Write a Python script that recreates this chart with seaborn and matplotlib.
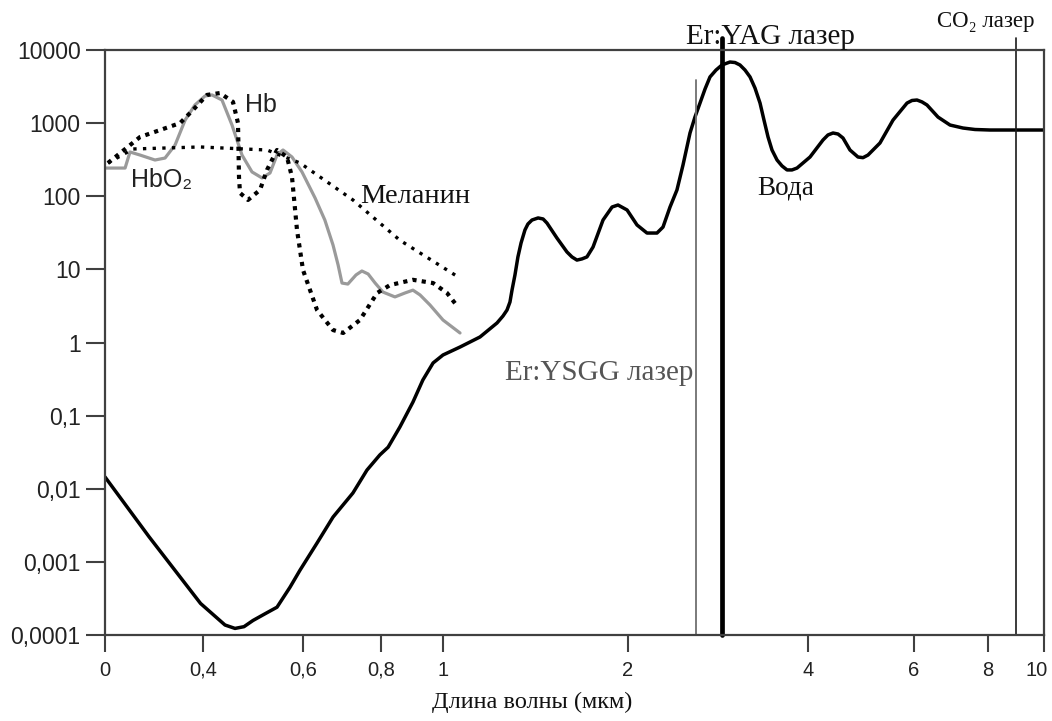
import numpy as np
import matplotlib
matplotlib.use("Agg")
import matplotlib.pyplot as plt
from matplotlib import font_manager
from matplotlib.transforms import ScaledTranslation
import seaborn as sns

# ---------------- data ----------------
# water absorption curve (wavelength µm, absorption coefficient)
water_um = [0.0, 0.18, 0.39, 0.428, 0.444, 0.464, 0.482, 0.50, 0.524, 0.548, 0.574, 0.594,
            0.636, 0.677, 0.713, 0.728, 0.764, 0.797, 0.823, 0.861, 0.903, 0.935, 0.968, 1.0,
            1.092, 1.2, 1.292, 1.324, 1.346, 1.362, 1.373, 1.389, 1.405, 1.422, 1.443,
            1.459, 1.481, 1.514, 1.541, 1.562, 1.616, 1.670, 1.697, 1.724, 1.751, 1.778,
            1.811, 1.865, 1.914, 1.946, 1.995, 2.1, 2.211, 2.322, 2.389, 2.467, 2.544,
            2.611, 2.689, 2.744, 2.8, 2.856, 2.911, 2.978, 3.044, 3.133, 3.189, 3.244, 3.3,
            3.356, 3.411, 3.467, 3.511, 3.556, 3.6, 3.656, 3.711, 3.767, 3.822, 3.878,
            4.038, 4.283, 4.377, 4.472, 4.566, 4.660, 4.792, 4.943, 5.038, 5.132, 5.358,
            5.604, 5.868, 5.962, 6.081, 6.216, 6.351, 6.649, 6.973, 7.324, 7.649, 8.071,
            10.0]
water_abs = [0.0145, 0.0022, 2.7e-4, 1.71e-4, 1.37e-4, 1.23e-4, 1.3e-4, 1.58e-4, 1.95e-4,
             2.4e-4, 4.5e-4, 7.7e-4, 1.81e-3, 4.1e-3, 7.0e-3, 8.75e-3, 0.018, 0.029, 0.037,
             0.07, 0.153, 0.307, 0.525, 0.675, 0.867, 1.19, 1.85, 2.3, 2.78, 3.58, 5.2, 8.4,
             14.8, 23, 34.6, 41.7, 47.3, 50.5, 48.9, 43, 26.8, 17.3, 14.8, 13.4, 13.9, 14.8,
             20.2, 47.3, 71.3, 75.9, 64.9, 40.5, 31.4, 31.4, 37.9, 71.3, 122, 267, 733, 1210,
             1880, 2930, 4280, 5320, 6240, 6850, 6740, 6240, 5320, 4280, 3020, 1880, 1100,
             646, 429, 313, 260, 229, 229, 243, 344, 588, 689, 733, 710, 626, 429, 344, 337,
             366, 535, 1100, 1880, 2040, 2070, 1950, 1770, 1210, 942, 857, 818, 805, 805]

# oxyhemoglobin
hbo2_um = [0.0, 0.082, 0.102, 0.143, 0.204, 0.245, 0.286, 0.327, 0.367, 0.404, 0.418, 0.438,
           0.458, 0.478, 0.498, 0.518, 0.534, 0.548, 0.56, 0.578, 0.598, 0.631, 0.656, 0.677,
           0.69, 0.70, 0.715, 0.736, 0.751, 0.767, 0.785, 0.806, 0.845, 0.877, 0.903, 0.926,
           0.958, 1.0, 1.092]
hbo2_abs = [243, 243, 403, 366, 313, 333, 502, 1100, 1770, 2350, 2430, 2070, 942, 366, 215,
            178, 208, 366, 429, 344, 215, 94.6, 47.3, 21.5, 11.5, 6.5, 6.3, 8.4, 9.5, 8.65,
            6.5, 4.9, 4.2, 4.75, 5.2, 4.47, 3.26, 2.03, 1.35]

# deoxyhemoglobin
hb_um = [0.012, 0.143, 0.306, 0.359, 0.408, 0.434, 0.46, 0.47, 0.472, 0.474, 0.49, 0.514,
         0.528, 0.548, 0.568, 0.578, 0.588, 0.6, 0.636, 0.677, 0.703, 0.746, 0.79, 0.829,
         0.903, 0.968, 1.022, 1.081]
hb_abs = [285, 646, 1000, 1510, 2430, 2580, 1950, 1000, 183, 111, 89, 122, 229, 429, 344, 183,
          34.6, 9.8, 2.78, 1.48, 1.35, 2.03, 4.75, 6.1, 7.2, 6.5, 4.75, 3.05]

# melanin
melanin_um = [0.012, 0.114, 0.388, 0.528, 0.594, 0.728, 0.861, 1.081]
melanin_abs = [285, 443, 472, 429, 285, 89, 25, 7.9]

# laser wavelengths (as drawn)
laser_names = ["Er:YSGG лазер", "Er:YAG лазер", "CO\u2082 лазер"]
laser_um = [2.75, 3.04, 9.0]

x_tick_values = [0, 0.4, 0.6, 0.8, 1, 2, 4, 6, 8, 10]
x_tick_labels = ["0", "0,4", "0,6", "0,8", "1", "2", "4", "6", "8", "10"]
y_tick_values = [1e-4, 1e-3, 1e-2, 1e-1, 1, 10, 100, 1000, 10000]
y_tick_labels = ["0,0001", "0,001", "0,01", "0,1", "1", "10", "100", "1000", "10000"]
x_label = "Длина волны (мкм)"

# hand-drawn, non-uniform axis: relative positions of the tick values
x_axis_positions = [0, 98, 198, 276, 338, 523, 703, 809, 883, 939]

# ---------------- style ----------------
sns.set_theme(style="white")
SERIF = ["Liberation Serif", "DejaVu Serif"]
avail = {f.name for f in font_manager.fontManager.ttflist}
HAS_NARROW = "Liberation Sans Narrow" in avail
if HAS_NARROW:
    TICKFONT = ["Liberation Sans Narrow", "DejaVu Sans"]
    ytick_size, xtick_size, hb_size = 19, 16.5, 20
else:
    TICKFONT = ["Liberation Sans", "DejaVu Sans"]
    ytick_size, xtick_size, hb_size = 16.6, 14.5, 18
plt.rcParams["font.family"] = TICKFONT

fig = plt.figure(figsize=(10.52, 7.21), dpi=100)
ax = fig.add_axes([105 / 1052, 1 - 635 / 721, 939 / 1052, 585 / 721])

sns.lineplot(x=water_um, y=water_abs, ax=ax, color="black", lw=2.5,
             sort=False, estimator=None, solid_joinstyle="round", solid_capstyle="round")
sns.lineplot(x=hbo2_um, y=hbo2_abs, ax=ax, color="#9a9a9a", lw=2.3,
             sort=False, estimator=None, solid_joinstyle="round")
sns.lineplot(x=hb_um, y=hb_abs, ax=ax, color="black", lw=3.0,
             sort=False, estimator=None, linestyle=(0, (1, 1.25)))
sns.lineplot(x=melanin_um, y=melanin_abs, ax=ax, color="black", lw=2.4,
             sort=False, estimator=None, linestyle=(0, (1, 1.9)))

xv = np.array(x_tick_values, dtype=float)
xp = np.array(x_axis_positions, dtype=float)


def fwd(v):
    return np.interp(v, xv, xp)


def inv(p):
    return np.interp(p, xp, xv)


ax.set_xscale("function", functions=(fwd, inv))
ax.set_yscale("log")
ax.set_xlim(0, 10)
ax.set_ylim(1e-4, 1e4)
ax.set_xticks(x_tick_values, labels=x_tick_labels)
ax.set_yticks(y_tick_values, labels=y_tick_labels)
ax.yaxis.set_minor_locator(matplotlib.ticker.NullLocator())
ax.xaxis.set_minor_locator(matplotlib.ticker.NullLocator())

for s in ax.spines.values():
    s.set_color("#404040")
    s.set_linewidth(1.6)
ax.tick_params(axis="y", direction="out", length=14, width=1.5, pad=3.5,
               color="#404040", labelsize=ytick_size, labelcolor="#222222", left=True)
ax.tick_params(axis="x", direction="out", length=12.5, width=1.5, pad=6,
               color="#404040", labelsize=xtick_size, labelcolor="#222222", bottom=True)

# keep the last x tick label inside the figure, as in the original
last = ax.get_xticklabels()[-1]
last.set_transform(last.get_transform() + ScaledTranslation(-5 / 72, 0, fig.dpi_scale_trans))

ax.set_xlabel(x_label, fontsize=17.5, family=SERIF, color="#111111")
ax.xaxis.set_label_coords(0.455, -0.097)
ax.set_ylabel("")

# laser lines
ax.axvline(laser_um[0], ymin=0, ymax=0.949, color="#707070", lw=1.3, clip_on=False)
ax.axvline(laser_um[1], ymin=0, ymax=1.021, color="black", lw=3.4, clip_on=False)
ax.axvline(laser_um[2], ymin=0, ymax=1.02, color="#1a1a1a", lw=1.2, clip_on=False)

# labels
ax.text(1.335, 0.307, laser_names[0], family=SERIF, fontsize=21, color="#555555",
        ha="left", va="baseline")
ax.text(2.644, 12080, laser_names[1], family=SERIF, fontsize=21, color="#111111",
        ha="left", va="baseline", clip_on=False)
ax.text(6.62, 20650, laser_names[2], family=SERIF, fontsize=16.5, color="#111111",
        ha="left", va="baseline", clip_on=False)
ax.text(3.433, 107, "Вода", family=SERIF, fontsize=19.5, color="#111111",
        ha="left", va="baseline")
ax.text(0.746, 81, "Меланин", family=SERIF, fontsize=20.5, color="#111111",
        ha="left", va="baseline")
ax.text(0.484, 1420, "Hb", family=TICKFONT, fontsize=hb_size, color="#222222",
        ha="left", va="baseline")
ax.text(0.106, 134, "HbO\u2082", family=TICKFONT, fontsize=hb_size, color="#222222",
        ha="left", va="baseline")

fig.savefig("out.png", dpi=100, facecolor="white")
